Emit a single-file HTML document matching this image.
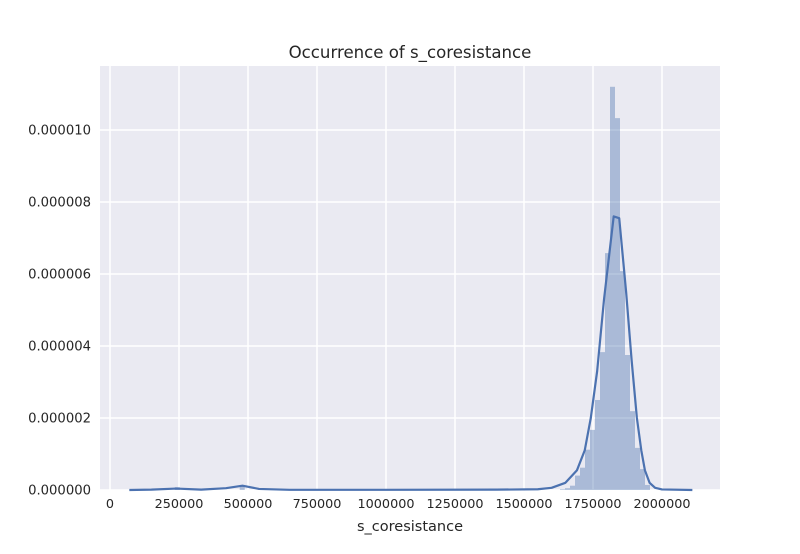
<!DOCTYPE html>
<html><head><meta charset="utf-8"><style>
body{margin:0;background:#fff;font-family:"DejaVu Sans","Liberation Sans",sans-serif}
</style></head><body>
<svg id="chart" width="800" height="550" xmlns="http://www.w3.org/2000/svg">
<rect x="100" y="66" width="620" height="424" fill="#eaeaf2"/>
<g id="grid"></g><g id="bars"></g><g id="kde"></g><g id="ticks"></g>
<text x="410" y="58" text-anchor="middle" font-size="16.6" fill="#262626">Occurrence of s_coresistance</text>
<text x="410" y="531" text-anchor="middle" font-size="14.5" fill="#262626">s_coresistance</text>
</svg>
<script>
const xTicks=[0,250000,500000,750000,1000000,1250000,1500000,1750000,2000000];
const yTicks=[0,2,4,6,8,10];
const yTickLabels=["0.000000","0.000002","0.000004","0.000006","0.000008","0.000010"];
const binWidth=18116;
const binStart=1630435;
const binHeights=[0.02,0.05,0.12,0.4,0.62,1.12,1.67,2.5,3.83,6.58,11.2,10.33,6.08,3.75,2.19,1.17,0.58,0.14];
const smallBinStarts=[235000,470000];
const smallBinHeights=[0.08,0.13];
const kdeX=[70000,150000,240000,330000,420000,480000,540000,650000,1000000,1400000,1550000,1600000,1650000,1692000,1720000,1742000,1765000,1790000,1825000,1845000,1870000,1890000,1909000,1925000,1938000,1955000,1975000,2000000,2110000];
const kdeY=[0,0.01,0.04,0.01,0.05,0.12,0.03,0.005,0.005,0.01,0.02,0.06,0.2,0.55,1.1,2.0,3.3,5.3,7.6,7.55,5.5,3.6,2.0,1.1,0.55,0.2,0.06,0.015,0];
const NS="http://www.w3.org/2000/svg";
const sx=v=>110+v*0.000276;
const sy=v=>490-v*36;
function mk(tag,attrs,parent){const e=document.createElementNS(NS,tag);for(const k in attrs)e.setAttribute(k,attrs[k]);document.getElementById(parent).appendChild(e);return e;}
xTicks.forEach(t=>{
 const l=mk('line',{x1:sx(t),x2:sx(t),y1:66,y2:490,stroke:'#fff','stroke-width':1.5},'grid');
 
 
 const tx=mk('text',{x:sx(t),y:508,'text-anchor':'middle','font-size':12.8,fill:'#262626'},'ticks');
 tx.textContent=t;
 
 
});
yTicks.forEach((t,i)=>{
 const l=mk('line',{x1:100,x2:720,y1:sy(t),y2:sy(t),stroke:'#fff','stroke-width':1.5},'grid');
 
 
 const tx=mk('text',{x:91,y:sy(t)+4.5,'text-anchor':'end','font-size':13.2,fill:'#262626'},'ticks');
 tx.textContent=yTickLabels[i];
 
 
});
binHeights.forEach((h,i)=>{
 const x0=sx(binStart+i*binWidth),x1=sx(binStart+(i+1)*binWidth);
 const r=mk('rect',{x:x0,y:sy(h),width:x1-x0,height:490-sy(h),fill:'#4c72b0','fill-opacity':0.4},'bars');
 
 
});
smallBinStarts.forEach((s,i)=>{
 const x0=sx(s),x1=sx(s+binWidth);
 const r=mk('rect',{x:x0,y:sy(smallBinHeights[i]),width:x1-x0,height:490-sy(smallBinHeights[i]),fill:'#4c72b0','fill-opacity':0.4},'bars');
 
 
});
const p=mk('polyline',{points:kdeX.map((x,i)=>sx(x)+','+sy(kdeY[i])).join(' '),fill:'none',stroke:'#4c72b0','stroke-width':2.2,'stroke-linejoin':'round'},'kde');


</script>
</body></html>
